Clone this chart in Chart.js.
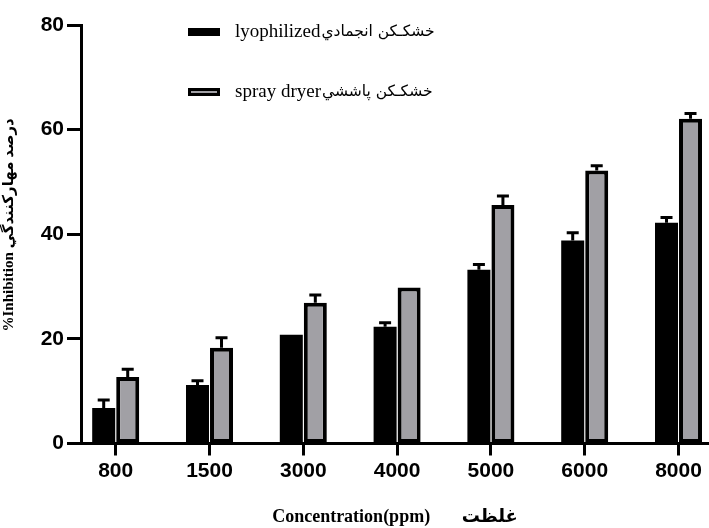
<!DOCTYPE html>
<html>
<head>
<meta charset="utf-8">
<script src="https://cdn.jsdelivr.net/npm/chart.js@4"></script>
<style>
  html, body { margin: 0; padding: 0; background: #fff; }
  #wrap { width: 709px; height: 528px; }
</style>
</head>
<body>
<div id="wrap"><canvas id="grafico" width="709" height="528"></canvas></div>
<script>
const categories = ['800', '1500', '3000', '4000', '5000', '6000', '8000'];
const lyophilized = [6.8, 11.2, 20.8, 22.3, 33.2, 38.8, 42.2];
const lyophilizedErr = [1.5, 0.8, 0, 0.8, 1.0, 1.5, 1.0];
const sprayDryer = [12.7, 18.3, 26.9, 29.8, 45.6, 52.2, 62.1];
const sprayDryerErr = [1.5, 1.9, 1.5, 0, 1.7, 0.9, 1.0];
const yTicks = [0, 20, 40, 60, 80];
const seriesLatin = ['lyophilized', 'spray dryer'];
const seriesPersian = ['خشکـکن انجمادي', 'خشکـکن پاششي'];

const tickFont = { family: '"Liberation Sans", Arial, sans-serif', size: 21, weight: 'bold' };

// error bars: stem up from the bar top plus a short cap
const errorBars = {
  id: 'errorBars',
  afterDatasetsDraw(chart) {
    const c = chart.ctx;
    const y = chart.scales.y;
    const errs = [lyophilizedErr, sprayDryerErr];
    c.save();
    c.strokeStyle = '#000';
    c.lineWidth = 3;
    chart.data.datasets.forEach((ds, di) => {
      chart.getDatasetMeta(di).data.forEach((bar, i) => {
        const e = errs[di][i];
        if (!e) return;
        const top = y.getPixelForValue(ds.data[i].y + e);
        c.beginPath();
        c.moveTo(bar.x, bar.y);
        c.lineTo(bar.x, top);
        c.moveTo(bar.x - 6, top);
        c.lineTo(bar.x + 6, top);
        c.stroke();
      });
    });
    c.restore();
  }
};

// legend drawn inside the plot like the original (latin + persian parts)
const insideLegend = {
  id: 'insideLegend',
  afterDraw(chart) {
    const c = chart.ctx;
    const rows = [32, 92];
    c.save();
    c.textBaseline = 'middle';
    c.textAlign = 'left';
    chart.data.datasets.forEach((ds, i) => {
      const ry = rows[i];
      c.fillStyle = '#000';
      c.fillRect(188, ry - 4, 32, 8);
      if (i === 1) {
        c.fillStyle = ds.backgroundColor;
        c.fillRect(191, ry - 1, 26, 2);
      }
      c.fillStyle = '#000';
      c.font = '19px "Liberation Serif", serif';
      c.fillText(seriesLatin[i], 235, ry);
      const w = c.measureText(seriesLatin[i]).width;
      c.font = '15.5px "DejaVu Sans", sans-serif';
      c.fillText(seriesPersian[i], 235 + w + 1, ry);
    });
    c.restore();
  }
};

new Chart(document.getElementById('grafico'), {
  type: 'bar',
  data: {
    datasets: [
      {
        label: seriesLatin[0] + seriesPersian[0],
        data: lyophilized.map((v, i) => ({ x: i, y: v })),
        backgroundColor: '#000',
        borderColor: '#000',
        borderWidth: 0,
        categoryPercentage: 0.512,
        barPercentage: 0.958
      },
      {
        label: seriesLatin[1] + seriesPersian[1],
        data: sprayDryer.map((v, i) => ({ x: i, y: v })),
        backgroundColor: '#a1a0a5',
        borderColor: '#000',
        borderWidth: 4,
        borderSkipped: false,
        categoryPercentage: 0.512,
        barPercentage: 0.958
      }
    ]
  },
  options: {
    responsive: false,
    animation: false,
    layout: { padding: { top: 25, right: 0, left: 0, bottom: 0 } },
    plugins: {
      legend: { display: false },
      tooltip: { enabled: false }
    },
    scales: {
      x: {
        type: 'linear',
        min: -0.37,
        max: 6.325,
        offset: false,
        afterBuildTicks: s => { s.ticks = categories.map((_, i) => ({ value: i })); },
        afterFit: s => { s.height = 84.5; },
        ticks: {
          autoSkip: false,
          maxRotation: 0,
          padding: 3,
          color: '#000',
          font: tickFont,
          callback: (v, i) => categories[i]
        },
        grid: { offset: false, drawOnChartArea: false, tickLength: 12, tickWidth: 3, tickColor: '#000' },
        border: { color: '#000', width: 3 },
        title: {
          display: true,
          text: 'Concentration(ppm)       غلظت',
          color: '#000',
          font: { family: '"Liberation Serif", "DejaVu Sans", serif', size: 18, weight: 'bold' },
          padding: { top: 12, bottom: 0 }
        }
      },
      y: {
        min: 0,
        max: 80,
        afterBuildTicks: s => { s.ticks = yTicks.map(v => ({ value: v })); },
        afterFit: s => { s.width = 81; },
        ticks: { color: '#000', font: tickFont, padding: 3 },
        grid: { drawOnChartArea: false, tickLength: 14, tickWidth: 3, tickColor: '#000' },
        border: { color: '#000', width: 3 },
        title: {
          display: true,
          text: '\u00a0\u00a0\u00a0\u00a0\u00a0%Inhibition درصد مهارکنندگي',
          color: '#000',
          font: { family: '"Liberation Serif", "DejaVu Sans", serif', size: 15, weight: 'bold' },
          padding: { top: 0, bottom: 10 }
        }
      }
    }
  },
  plugins: [errorBars, insideLegend]
});
</script>
</body>
</html>
